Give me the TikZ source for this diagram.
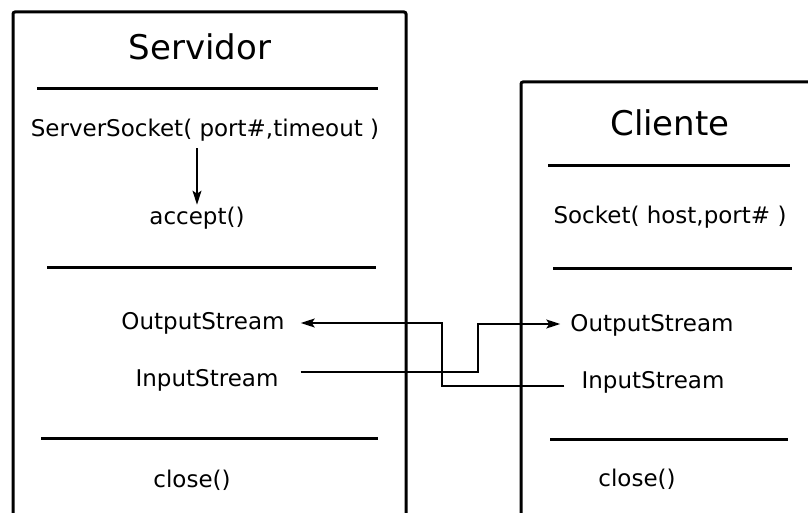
\documentclass[tikz,border=0pt]{standalone}
\usepackage{fontspec}
\setmainfont{DejaVu Sans}
\usetikzlibrary{positioning,calc,arrows.meta}

\tikzset{
    frame/.style={line width=3pt, rounded corners=2pt},
    divider/.style={line width=3pt},
    title/.style={font=\fontsize{34}{36}\selectfont, inner sep=0pt},
    txt/.style={font=\fontsize{23}{25}\selectfont, inner sep=0pt},
    link/.style={line width=1.6pt},
    tip/.style={-{Stealth[length=14pt,width=9pt,inset=3pt]}}
}

\begin{document}
\begin{tikzpicture}[x=1pt,y=-1pt]
    \useasboundingbox (0,0) rectangle (808,513);

    % servidor
    \draw[frame] (13,520) -- (13,12) -- (406,12) -- (406,520);
    \node[title] (srv) at (200,47) {Servidor};
    \node[txt] (ss) at (205,130) {ServerSocket( port\#,timeout )};
    \node[txt] (acc) at (197,218) {accept()};
    \node[txt] (sout) at (203,323) {OutputStream};
    \node[txt] (sin) at (207,380) {InputStream};
    \node[txt] (sclose) at (192,480) {close()};
    \foreach \y/\a/\b in {89/37/378, 267/47/376, 438/41/378}
        \draw[divider] (\a,\y) -- (\b,\y);
    \draw[link,tip] (ss.south -| acc) ++(0,7) -- ([yshift=2pt]acc.north);

    % cliente
    \draw[frame] (521,520) -- (521,82) -- (815,82);
    \node[title] (cli) at (670,123) {Cliente};
    \node[txt] (sock) at (670,217) {Socket( host,port\# )};
    \node[txt] (cout) at (652,325) {OutputStream};
    \node[txt] (cin) at (653,382) {InputStream};
    \node[txt] (cclose) at (637,479) {close()};
    \foreach \y/\a/\b in {166/548/790, 268/553/792, 439/550/788}
        \draw[divider] (\a,\y) -- (\b,\y);

    % streams
    \draw[link,tip] ([shift={(-17,4)}]cin.west) -| (442,350) |- ([shift={(16,0)}]sout.east);
    \draw[link,tip] ([shift={(22,-8)}]sin.east) -| (478,350) |- ([shift={(-10,-1)}]cout.west);
\end{tikzpicture}
\end{document}
